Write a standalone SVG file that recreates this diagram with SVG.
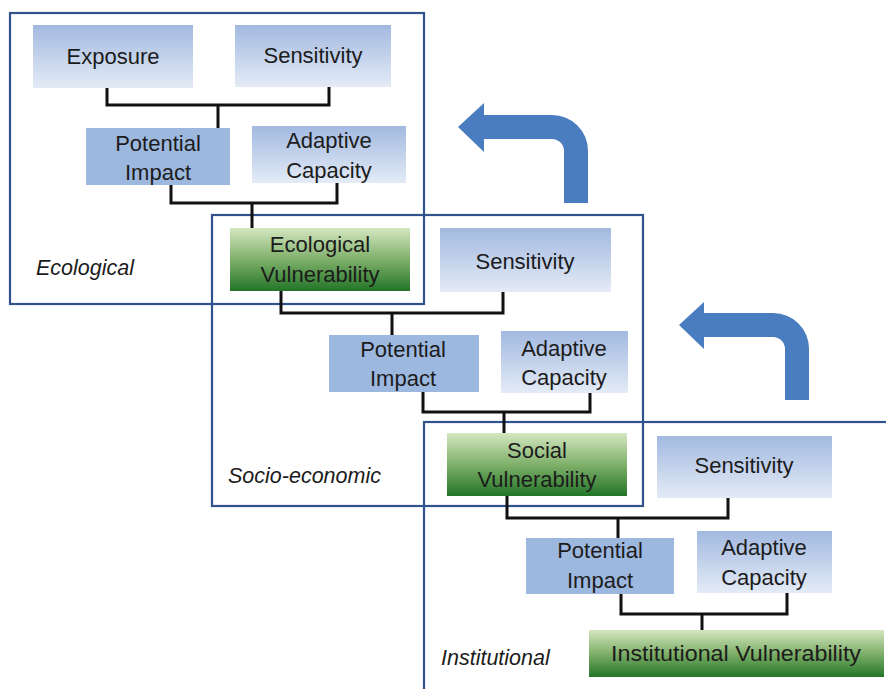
<svg xmlns="http://www.w3.org/2000/svg" width="886" height="689" viewBox="0 0 886 689">
<defs>
<linearGradient id="gBlue" x1="0" y1="0" x2="0" y2="1">
<stop offset="0" stop-color="#a2b9e0"/>
<stop offset="1" stop-color="#e4ebf6"/>
</linearGradient>
<linearGradient id="gGreen" x1="0" y1="0" x2="0" y2="1">
<stop offset="0" stop-color="#d4e7c0"/>
<stop offset="0.5" stop-color="#7fb06a"/>
<stop offset="1" stop-color="#237528"/>
</linearGradient>
<style>
.frame{fill:none;stroke:#30538e;stroke-width:2.2}
.lt{fill:url(#gBlue)}
.pi{fill:#9cb8df}
.gr{fill:url(#gGreen)}
.t{font-family:"Liberation Sans",Arial,sans-serif;font-size:22px;fill:#1c1c1c;text-anchor:middle}
.lbl{font-family:"Liberation Sans",Arial,sans-serif;font-size:21.5px;font-style:italic;fill:#1c1c1c}
.c{fill:none;stroke:#111;stroke-width:3}
.arr{fill:none;stroke:#4a7cc0;stroke-width:24}
.ah{fill:#4a7cc0}
</style>
</defs>
<rect width="886" height="689" fill="#ffffff"/>

<g id="frames">
<rect id="frame-ecological" class="frame" x="10" y="13" width="414" height="291"/>
<rect id="frame-socio" class="frame" x="212" y="215" width="431" height="291"/>
<rect id="frame-institutional" class="frame" x="424" y="422" width="480" height="300"/>
</g>

<g id="connectors">
<path class="c" d="M107 88 V105 H329 V87 M218 105 V128"/>
<path class="c" d="M171 185 V203 H337 V183 M252 203 V228"/>
<path class="c" d="M281 291 V313 H503 V292 M392 313 V335"/>
<path class="c" d="M423 392 V412 H590 V393 M504 412 V433"/>
<path class="c" d="M507 496 V518 H728 V498 M618 518 V538"/>
<path class="c" d="M621 594 V614 H787 V593 M702 614 V630"/>
</g>

<g id="arrow-1">
<path class="arr" d="M480 127 H552 A24 24 0 0 1 576 151 V203"/>
<polygon class="ah" points="458,127 484,103 484,152"/>
</g>
<g id="arrow-2">
<path class="arr" d="M700 325 H773 A24 24 0 0 1 797 349 V400"/>
<polygon class="ah" points="679,325 704,302 704,349"/>
</g>

<g id="eco-exposure"><rect class="lt" x="33" y="25" width="160" height="63"/><text class="t" x="113" y="64">Exposure</text></g>
<g id="eco-sensitivity"><rect class="lt" x="235" y="25" width="156" height="62"/><text class="t" x="313" y="63">Sensitivity</text></g>
<g id="eco-potential-impact"><rect class="pi" x="86" y="128" width="144" height="57"/><text class="t" x="158" y="151">Potential</text><text class="t" x="158" y="180">Impact</text></g>
<g id="eco-adaptive-capacity"><rect class="lt" x="252" y="126" width="154" height="57"/><text class="t" x="329" y="148">Adaptive</text><text class="t" x="329" y="178">Capacity</text></g>
<g id="eco-vulnerability"><rect class="gr" x="230" y="228" width="180" height="63"/><text class="t" x="320" y="252">Ecological</text><text class="t" x="320" y="282">Vulnerability</text></g>
<g id="label-ecological"><text class="lbl" x="36" y="275">Ecological</text></g>

<g id="soc-sensitivity"><rect class="lt" x="440" y="228" width="171" height="64"/><text class="t" x="525" y="269">Sensitivity</text></g>
<g id="soc-potential-impact"><rect class="pi" x="329" y="335" width="150" height="57"/><text class="t" x="403" y="357">Potential</text><text class="t" x="403" y="386">Impact</text></g>
<g id="soc-adaptive-capacity"><rect class="lt" x="501" y="331" width="127" height="62"/><text class="t" x="564" y="356">Adaptive</text><text class="t" x="564" y="385">Capacity</text></g>
<g id="soc-vulnerability"><rect class="gr" x="447" y="433" width="180" height="63"/><text class="t" x="537" y="458">Social</text><text class="t" x="537" y="487">Vulnerability</text></g>
<g id="label-socio"><text class="lbl" x="228" y="483">Socio-economic</text></g>

<g id="inst-sensitivity"><rect class="lt" x="657" y="436" width="175" height="62"/><text class="t" x="744" y="473">Sensitivity</text></g>
<g id="inst-potential-impact"><rect class="pi" x="526" y="538" width="148" height="56"/><text class="t" x="600" y="558">Potential</text><text class="t" x="600" y="588">Impact</text></g>
<g id="inst-adaptive-capacity"><rect class="lt" x="697" y="531" width="135" height="62"/><text class="t" x="764" y="555">Adaptive</text><text class="t" x="764" y="585">Capacity</text></g>
<g id="inst-vulnerability"><rect class="gr" x="589" y="630" width="295" height="47"/><text class="t" x="736" y="661" textLength="250" lengthAdjust="spacingAndGlyphs">Institutional Vulnerability</text></g>
<g id="label-institutional"><text class="lbl" x="441" y="665">Institutional</text></g>
</svg>
